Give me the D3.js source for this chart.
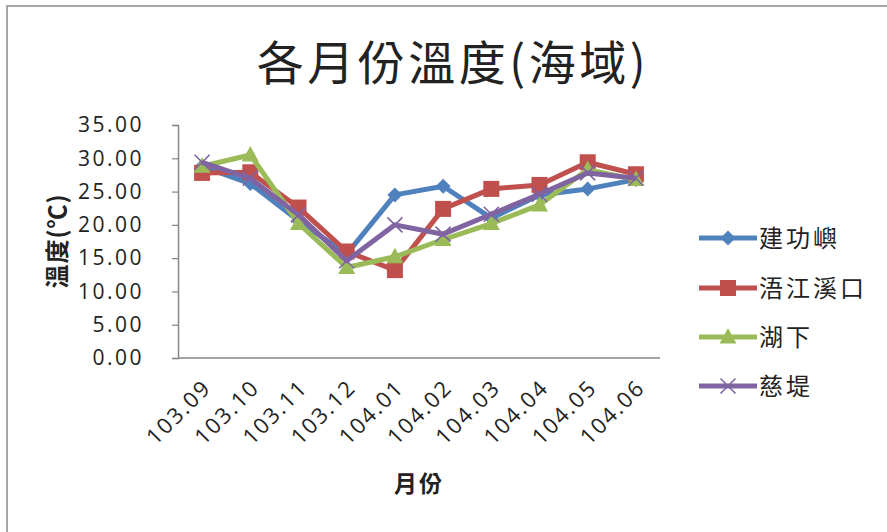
<!DOCTYPE html>
<html>
<head>
<meta charset="utf-8">
<script src="https://cdn.jsdelivr.net/npm/d3@7/dist/d3.min.js"></script>
<style>
  html, body { margin: 0; padding: 0; background: #fff; }
  svg { display: block; }
  text { font-family: "Noto Sans CJK TC", "Noto Sans", sans-serif; fill: #222; }
</style>
</head>
<body>
<svg id="chart" width="887" height="532"></svg>
<script>
// Monthly sea-area temperature, four stations
const months = ["103.09","103.10","103.11","103.12","104.01","104.02","104.03","104.04","104.05","104.06"];
const yTicks = [0, 5, 10, 15, 20, 25, 30, 35];
const seriesNames = ["建功嶼", "浯江溪口", "湖下", "慈堤"];
const jianGongYu = [28.8, 26.2, 20.6, 15.6, 24.5, 25.8, 21.0, 24.5, 25.4, 26.8];
const wuJiangXiKou = [27.8, 27.9, 22.6, 16.0, 13.2, 22.4, 25.4, 26.0, 29.4, 27.6];
const huXia = [28.8, 30.5, 20.2, 13.6, 15.2, 17.8, 20.2, 23.0, 28.3, 26.8];
const ciDi = [29.4, 27.0, 21.5, 14.6, 20.0, 18.6, 21.6, 24.6, 27.8, 27.0];

const colors = ["#4F81BD", "#C0504D", "#9BBB59", "#8064A2"];
const markers = ["diamond", "square", "triangle", "cross"];
const seriesValues = [jianGongYu, wuJiangXiKou, huXia, ciDi];
const series = seriesNames.map((name, i) => ({
  name, values: seriesValues[i], color: colors[i], marker: markers[i]
}));

const svg = d3.select("#chart");

// chart frame
svg.append("rect")
  .attr("x", 7).attr("y", 6).attr("width", 900).attr("height", 560)
  .attr("fill", "none").attr("stroke", "#8a8a8a").attr("stroke-width", 1.5);

// title
svg.append("text")
  .attr("x", 453).attr("y", 80)
  .attr("text-anchor", "middle")
  .style("font-size", "47px")
  .style("letter-spacing", "3.5px")
  .text("各月份溫度(海域)");

const plot = { left: 178, right: 660, top: 125, bottom: 358 };

const x = d3.scalePoint().domain(months).range([plot.left, plot.right]).padding(0.5);
const y = d3.scaleLinear().domain([0, 35]).range([plot.bottom, plot.top]);

const numFont = "'Open Sans', 'Noto Sans', sans-serif";

// y axis
const yAxis = svg.append("g")
  .attr("transform", `translate(${plot.left},0)`)
  .call(d3.axisLeft(y).tickValues(yTicks).tickFormat(d3.format(".2f")).tickSize(6).tickPadding(28));
yAxis.select(".domain").attr("stroke", "#868686").attr("stroke-width", 1.5);
yAxis.selectAll(".tick line").attr("stroke", "#868686").attr("stroke-width", 1.2);
yAxis.selectAll(".tick text")
  .style("font-family", numFont)
  .style("font-size", "21px")
  .style("letter-spacing", "2.5px")
  .attr("fill", "#222");

// x axis
const xAxis = svg.append("g")
  .attr("transform", `translate(0,${plot.bottom})`)
  .call(d3.axisBottom(x).tickSize(0).tickPadding(0));
xAxis.select(".domain").attr("stroke", "#868686").attr("stroke-width", 1.5)
  .attr("d", `M${plot.left},0H${plot.right}`);
xAxis.selectAll(".tick text")
  .style("font-family", numFont)
  .style("font-size", "22px")
  .style("letter-spacing", "2px")
  .attr("fill", "#222")
  .attr("text-anchor", "end")
  .attr("dy", null)
  .attr("transform", "translate(10,31) rotate(-45)");

// axis titles
svg.append("text")
  .attr("transform", "translate(66,241) rotate(-90)")
  .attr("text-anchor", "middle")
  .style("font-size", "24px").style("font-weight", "bold")
  .style("letter-spacing", "1px")
  .text("溫度(℃)");
svg.append("text")
  .attr("x", (plot.left + plot.right) / 2).attr("y", 492)
  .attr("text-anchor", "middle")
  .style("font-size", "23px").style("font-weight", "bold")
  .style("letter-spacing", "2px")
  .text("月份");

// marker drawing
function drawMarker(g, type, color) {
  if (type === "diamond") {
    g.append("path").attr("d", "M0,-7.5L7.5,0L0,7.5L-7.5,0Z").attr("fill", color);
  } else if (type === "square") {
    g.append("rect").attr("x", -8).attr("y", -8).attr("width", 16).attr("height", 16).attr("fill", color);
  } else if (type === "triangle") {
    g.append("path").attr("d", "M0,-9L8.5,6.5L-8.5,6.5Z").attr("fill", color);
  } else {
    g.append("path").attr("d", "M-7.5,-7.5L7.5,7.5M-7.5,7.5L7.5,-7.5")
      .attr("stroke", color).attr("stroke-width", 1.6).attr("fill", "none");
  }
}

const line = d3.line().x((d, i) => x(months[i])).y(d => y(d));

series.forEach(s => {
  const g = svg.append("g");
  g.append("path")
    .datum(s.values)
    .attr("d", line)
    .attr("fill", "none")
    .attr("stroke", s.color)
    .attr("stroke-width", 5)
    .attr("stroke-linejoin", "round");
  s.values.forEach((v, i) => {
    const m = g.append("g").attr("transform", `translate(${x(months[i])},${y(v)})`);
    drawMarker(m, s.marker, s.color);
  });
});

// legend
const legendRows = [238, 288, 337, 386];
series.forEach((s, i) => {
  const g = svg.append("g").attr("transform", `translate(0,${legendRows[i]})`);
  g.append("line").attr("x1", 699).attr("x2", 757).attr("y1", 0).attr("y2", 0)
    .attr("stroke", s.color).attr("stroke-width", 5);
  const m = g.append("g").attr("transform", "translate(728,0)");
  drawMarker(m, s.marker, s.color);
  g.append("text").attr("x", 759).attr("y", 0).attr("dy", "0.36em")
    .style("font-size", "24px")
    .style("letter-spacing", "3px")
    .text(s.name);
});
</script>
</body>
</html>
